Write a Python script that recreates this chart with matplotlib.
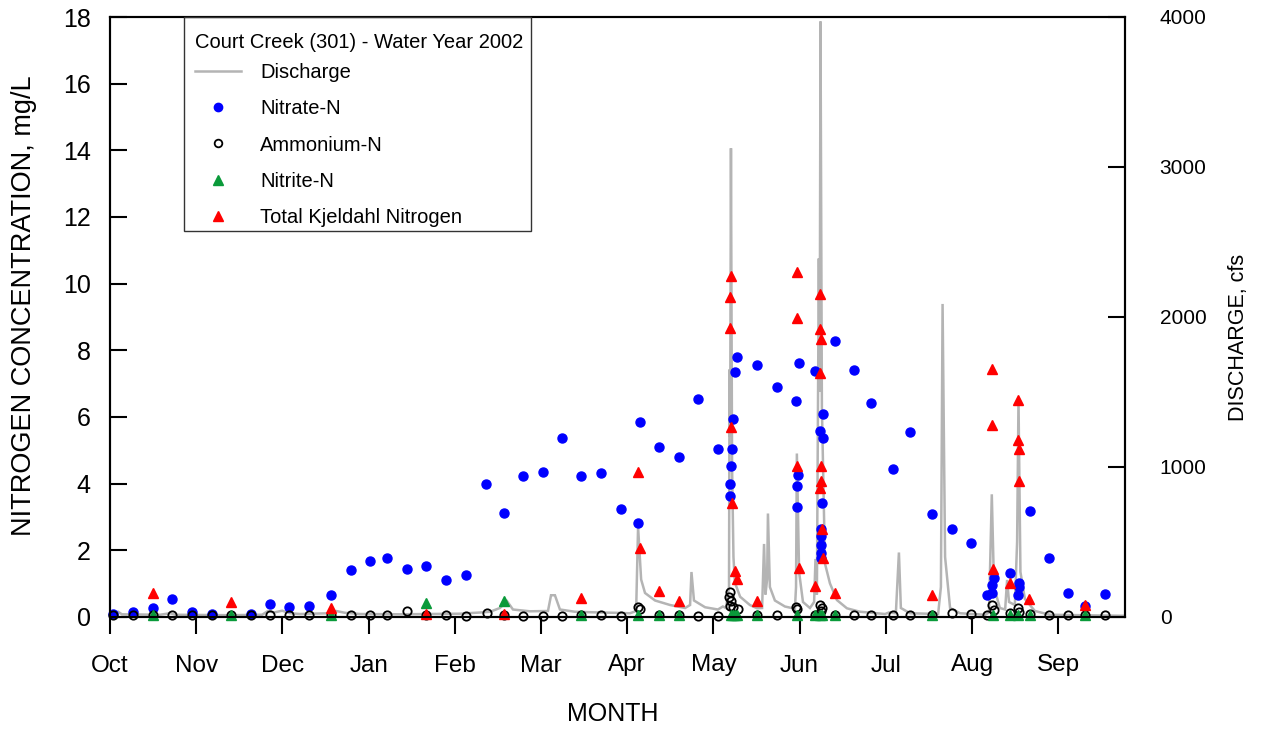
import matplotlib
matplotlib.use("Agg")
import matplotlib.pyplot as plt
from matplotlib.lines import Line2D
from matplotlib.patches import Rectangle

plt.rcParams['font.family'] = ['Liberation Sans', 'DejaVu Sans']

# ---------------- data (day of water year, starting Oct 1 2001) ----------------
month_labels = ["Oct", "Nov", "Dec", "Jan", "Feb", "Mar", "Apr", "May", "Jun", "Jul", "Aug", "Sep"]
month_ticks = [0, 31, 62, 93, 124, 155, 186, 217, 248, 279, 310, 341]

discharge_day = [0, 1.4, 2.9, 4.3, 18.0, 21.6, 23.7, 43.2, 54.7, 56.8, 59.0, 61.9, 64.7, 68.3,
                 79.1, 81.3, 84.5, 89.9, 104.3, 115.1, 125.9, 133.1, 136.7, 140.2, 142.8, 144.9,
                 151.0, 157.5, 158.6, 160.0, 161.8, 167.2, 176.2, 181.6, 187.0, 189.2, 189.9,
                 191.0, 192.4, 196.0, 201.4, 206.8, 208.6, 209.1, 210.0, 214.0, 218.6, 220.4,
                 221.5, 222.6, 222.8, 223.0, 223.3, 223.7, 224.2, 224.7, 226.6, 230.1, 232.7,
                 234.5, 235.2, 235.7, 236.3, 236.6, 237.3, 239.1, 242.7, 246.3, 246.7, 247.0,
                 247.8, 249.2, 251.7, 253.2, 253.7, 254.2, 254.9, 255.2, 255.5, 256.0, 257.1,
                 258.9, 261.4, 265.0, 269.7, 278.7, 280.1, 282.6, 283.7, 284.4, 287.7, 297.8,
                 298.8, 299.4, 300.3, 302.1, 305.7, 314.7, 316.1, 317.1, 317.9, 320.0, 321.9,
                 322.6, 323.3, 325.4, 326.2, 326.7, 327.4, 329.0, 332.6, 338.0, 365.0]
discharge_cfs = [15, 20, 35, 18, 15, 25, 15, 12, 15, 40, 30, 42, 25, 20,
                 25, 40, 28, 20, 18, 20, 22, 30, 35, 60, 105, 50,
                 38, 40, 145, 145, 50, 35, 30, 28, 25, 40, 600,
                 250, 160, 110, 80, 60, 80, 300, 110, 65, 50, 70,
                 60, 200, 1650, 1200, 3125, 1000, 400, 230, 135, 80, 58,
                 60, 487, 150, 250, 690, 200, 110, 70, 55, 200, 1090,
                 300, 100, 60, 100, 387, 150, 2390, 1500, 3970, 1400, 357,
                 224, 113, 58, 35, 20, 30, 25, 430, 60, 25, 20,
                 200, 2087, 400, 60, 25, 15, 30, 818, 200, 60, 50,
                 247, 100, 80, 500, 1450, 300, 120, 40, 15, 8]

nitrate_day = [1.1, 8.4, 15.4, 22.4, 29.5, 36.6, 50.6, 57.5, 64.5, 71.6, 79.5, 86.6, 93.5,
               99.5, 106.7, 113.5, 120.8, 127.9, 135.2, 141.6, 148.5, 155.6, 162.5, 169.5,
               176.6, 183.6, 189.9, 190.6, 197.5, 204.6, 211.6, 218.5, 222.8, 223.0, 223.3,
               223.7, 223.9, 224.6, 225.6, 232.7, 239.7, 246.7, 247.0, 247.0, 247.4, 247.8,
               253.5, 256.5, 255.2, 256.3, 256.1, 255.7, 255.6, 255.5, 255.6, 255.8, 260.7,
               267.7, 273.7, 281.5, 287.6, 295.6, 302.7, 309.7, 315.5, 317.1, 317.2, 317.8,
               323.5, 326.8, 326.8, 326.5, 330.7, 337.7, 344.6, 350.7, 357.7]
nitrate_conc = [0.08, 0.15, 0.28, 0.54, 0.15, 0.08, 0.08, 0.39, 0.29, 0.34, 0.66, 1.41, 1.69,
                1.76, 1.45, 1.53, 1.12, 1.26, 3.99, 3.12, 4.23, 4.34, 5.37, 4.23,
                4.32, 3.24, 2.83, 5.86, 5.11, 4.81, 6.53, 5.04, 3.63, 4.00, 4.54,
                5.03, 5.93, 7.36, 7.79, 7.56, 6.89, 6.49, 3.29, 3.94, 4.27, 7.62,
                7.38, 6.08, 5.58, 5.37, 3.42, 2.65, 2.44, 2.15, 1.91, 1.78, 8.27,
                7.41, 6.43, 4.45, 5.54, 3.10, 2.65, 2.22, 0.67, 0.73, 0.95, 1.16,
                1.31, 1.03, 0.89, 0.66, 3.19, 1.76, 0.73, 0.34, 0.70]

ammonium_day = [1.1, 8.4, 15.4, 22.4, 29.5, 36.6, 43.5, 50.6, 57.5, 64.5, 71.6, 79.5, 86.6,
                93.5, 99.5, 106.7, 113.5, 120.8, 127.9, 135.5, 141.6, 148.5, 155.6, 162.5,
                169.5, 176.6, 183.6, 189.9, 190.6, 197.5, 204.6, 211.6, 218.5, 222.8, 222.6,
                223.3, 222.9, 224.0, 226.0, 232.7, 239.7, 246.7, 247.1, 253.5, 255.4, 256.0,
                255.6, 260.6, 267.7, 273.7, 281.5, 287.6, 295.6, 302.7, 309.7, 315.5, 317.1,
                317.8, 323.5, 326.5, 326.8, 330.7, 337.7, 344.6, 350.7, 357.7]
ammonium_conc = [0.05, 0.05, 0.05, 0.05, 0.05, 0.05, 0.05, 0.05, 0.05, 0.05, 0.05, 0.05, 0.05,
                 0.05, 0.05, 0.17, 0.05, 0.05, 0.04, 0.12, 0.05, 0.03, 0.03, 0.04,
                 0.05, 0.06, 0.03, 0.29, 0.23, 0.05, 0.05, 0.04, 0.04, 0.74, 0.61,
                 0.48, 0.34, 0.31, 0.23, 0.05, 0.05, 0.29, 0.23, 0.05, 0.37, 0.27,
                 0.19, 0.05, 0.05, 0.05, 0.05, 0.05, 0.05, 0.11, 0.08, 0.06, 0.36,
                 0.21, 0.11, 0.28, 0.16, 0.08, 0.05, 0.05, 0.05, 0.05]

nitrite_day = [15.4, 43.5, 79.5, 113.5, 141.6, 169.5, 189.9, 197.5, 204.6, 223.3, 224.0,
               224.6, 225.4, 232.7, 247.0, 253.5, 255.3, 256.0, 260.6, 295.6, 317.5, 323.5,
               326.6, 330.7, 350.7]
nitrite_conc = [0.05, 0.05, 0.05, 0.41, 0.47, 0.05, 0.05, 0.05, 0.05, 0.05, 0.05,
                0.05, 0.05, 0.05, 0.05, 0.05, 0.05, 0.05, 0.05, 0.05, 0.05, 0.05,
                0.05, 0.05, 0.05]

tkn_day = [15.4, 43.5, 79.5, 113.5, 141.6, 169.5, 189.9, 190.6, 197.5, 204.6, 222.8, 223.0,
           223.3, 223.3, 223.5, 224.6, 225.6, 232.7, 247.0, 247.1, 247.1, 247.7, 253.5,
           255.4, 255.4, 255.5, 255.4, 255.8, 255.8, 255.2, 256.1, 256.5, 260.6, 295.6,
           317.1, 317.2, 317.6, 323.5, 326.5, 326.5, 326.8, 326.8, 330.5, 350.7]
tkn_conc = [0.71, 0.46, 0.26, 0.08, 0.08, 0.56, 4.36, 2.06, 0.78, 0.47, 8.66, 9.60,
            10.24, 5.71, 3.41, 1.39, 1.14, 0.48, 10.36, 8.98, 4.54, 1.46, 0.94,
            9.70, 8.65, 8.34, 7.31, 4.53, 4.08, 3.86, 2.64, 1.78, 0.71, 0.65,
            7.43, 5.77, 1.44, 1.03, 6.51, 5.31, 5.04, 4.07, 0.53, 0.36]

legend_title = 'Court Creek (301) - Water Year 2002'
legend_labels = ['Discharge', 'Nitrate-N', 'Ammonium-N', 'Nitrite-N', 'Total Kjeldahl Nitrogen']

# ---------------- figure ----------------
W, H = 1265, 733
fig = plt.figure(figsize=(W / 100, H / 100), dpi=100)
L, R, B, T = 110, 1125, 617, 17
ax = fig.add_axes([L / W, 1 - B / H, (R - L) / W, (B - T) / H])
ax2 = ax.twinx()
ax.set_zorder(2)
ax2.set_zorder(1)
ax.patch.set_visible(False)


def px_x(px):
    return (px - L) / (R - L)


def px_y(py):
    return (B - py) / (B - T)


gray = '#b4b4b4'
green = '#0a9a3a'
ax2.plot(discharge_day, discharge_cfs, color=gray, lw=1.8, solid_joinstyle='miter')

ms = 6.5
ax.plot(nitrate_day, nitrate_conc, 'o', color='#0000ff', ms=ms, mec='#0000ff', clip_on=False)
ax.plot(ammonium_day, ammonium_conc, 'o', mfc='none', mec='black', mew=1.3, ms=6.0, clip_on=False)
ax.plot(nitrite_day, nitrite_conc, '^', color=green, ms=7, mec=green, clip_on=False)
ax.plot(tkn_day, tkn_conc, '^', color='#ff0000', ms=7, mec='#ff0000', clip_on=False)

ax.set_xlim(0, 365)
ax.set_ylim(0, 18)
ax2.set_ylim(0, 4000)
ax.set_yticks(range(0, 19, 2))
ax2.set_yticks(range(0, 4001, 1000))
ax.set_xticks(month_ticks)
ax.set_xticklabels(month_labels)

for a in (ax, ax2):
    for s in a.spines.values():
        s.set_linewidth(1.5)
ax.tick_params(axis='y', direction='in', length=12, width=1.5, labelsize=18, pad=14)
ax.tick_params(axis='x', direction='out', length=12, width=1.5, labelsize=17.5, pad=15)
ax2.tick_params(axis='y', direction='in', length=12, width=1.5, labelsize=15, pad=25)

ax.set_ylabel('NITROGEN CONCENTRATION, mg/L', fontsize=19.5)
ax2.set_ylabel('DISCHARGE, cfs', fontsize=15.5)
ax.set_xlabel('MONTH', fontsize=18)
ax.yaxis.set_label_coords(px_x(37), px_y(306))
ax2.yaxis.set_label_coords(px_x(1228), px_y(337))
ax.xaxis.set_label_coords(px_x(613), px_y(702))

# legend: frame and title drawn separately
lfs = 14.5
ax.add_patch(Rectangle((px_x(184), px_y(231)), px_x(530.7) - px_x(184), px_y(17) - px_y(231),
                       transform=ax.transAxes, fill=False, edgecolor='#333333', lw=1.0,
                       zorder=5, clip_on=False))
ax.text(px_x(195), px_y(42), legend_title, transform=ax.transAxes, ha='left', va='center',
        fontsize=lfs, zorder=6)
handles = [
    Line2D([], [], color=gray, lw=1.8),
    Line2D([], [], ls='none', marker='o', color='#0000ff', ms=6),
    Line2D([], [], ls='none', marker='o', mfc='none', mec='black', mew=1.3, ms=5.5),
    Line2D([], [], ls='none', marker='^', color=green, ms=6.5),
    Line2D([], [], ls='none', marker='^', color='#ff0000', ms=6.5),
]
leg = ax.legend(handles, legend_labels, loc='upper left',
                bbox_to_anchor=(px_x(185), px_y(52.8)), borderaxespad=0, borderpad=0.5,
                fontsize=lfs, frameon=False, handlelength=2.29, handletextpad=0.95,
                labelspacing=0.86, numpoints=1)

fig.savefig('out.png', dpi=100)
